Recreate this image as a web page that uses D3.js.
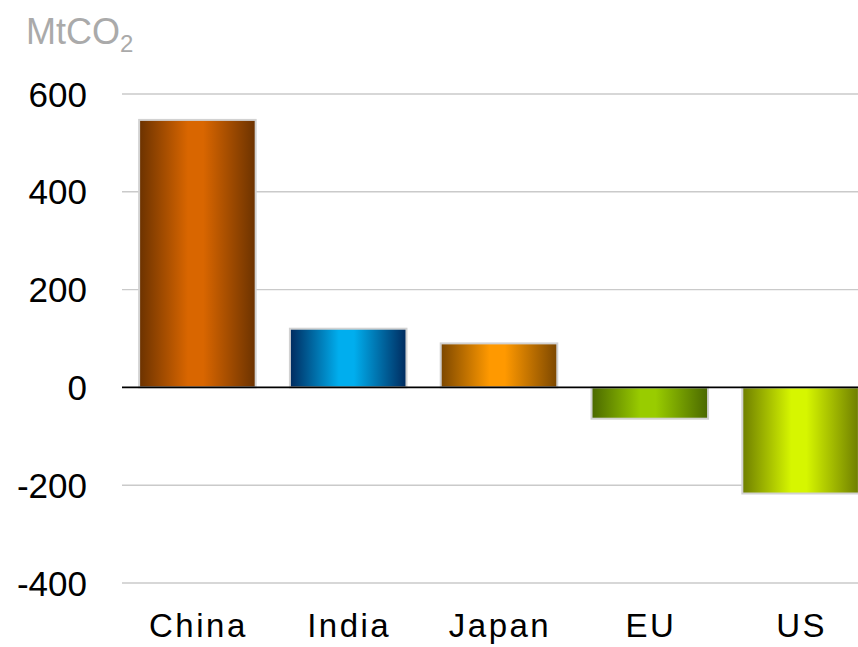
<!DOCTYPE html>
<html>
<head>
<meta charset="utf-8">
<script src="https://cdn.jsdelivr.net/npm/d3@7"></script>
<style>
body{margin:0;background:#fff;overflow:hidden;}
text{font-family:"Liberation Sans",Arial,sans-serif;}
</style>
</head>
<body>
<div id="chart"></div>
<script>
var w = 858;
var h = 647;

// data
var countries = ["China","India","Japan","EU","US"];
var changes = [547, 120, 90, -64, -217];
var yTicks = [600, 400, 200, 0, -200, -400];
// gradient colours: [edge, centre]
var barColors = [
  ["#6b3200","#d96600"],
  ["#002a5e","#00aeee"],
  ["#7c4700","#ff9900"],
  ["#4a6800","#99cc00"],
  ["#6e7e00","#d6f600"]
];

var svg = d3.select("#chart").append("svg")
  .attr("width", w)
  .attr("height", h)
  .style("display", "block");

var xScale = d3.scaleBand()
  .domain(countries)
  .range([122, 876])
  .paddingInner(0.227)
  .paddingOuter(0.1135);

var yScale = d3.scaleLinear()
  .domain([-400, 600])
  .range([583, 94]);

// gradients
var defs = svg.append("defs");
barColors.forEach(function(c, i){
  var g = defs.append("linearGradient")
    .attr("id", "grad" + i)
    .attr("x1", "0%").attr("x2", "100%")
    .attr("y1", "0%").attr("y2", "0%");
  g.append("stop").attr("offset", "0%").attr("stop-color", c[0]);
  g.append("stop").attr("offset", "42%").attr("stop-color", c[1]);
  g.append("stop").attr("offset", "55%").attr("stop-color", c[1]);
  g.append("stop").attr("offset", "100%").attr("stop-color", c[0]);
});

// gridlines
svg.selectAll(".grid")
  .data(yTicks.filter(function(d){ return d !== 0; }))
  .enter().append("line")
  .attr("class", "grid")
  .attr("x1", 122).attr("x2", w)
  .attr("y1", function(d){ return yScale(d); })
  .attr("y2", function(d){ return yScale(d); })
  .attr("stroke", "#cacaca")
  .attr("stroke-width", 1.4);

// tick labels
svg.selectAll(".ytick")
  .data(yTicks)
  .enter().append("text")
  .attr("class", "ytick")
  .attr("x", 87)
  .attr("y", function(d){ return yScale(d); })
  .attr("dy", "0.36em")
  .attr("text-anchor", "end")
  .attr("font-size", 35)
  .attr("fill", "#000")
  .text(function(d){ return d; });

// bars
svg.selectAll(".bar")
  .data(changes)
  .enter().append("rect")
  .attr("class", "bar")
  .attr("x", function(d, i){ return xScale(countries[i]); })
  .attr("width", xScale.bandwidth())
  .attr("y", function(d){ return yScale(Math.max(0, d)); })
  .attr("height", function(d){ return Math.abs(yScale(d) - yScale(0)); })
  .attr("fill", function(d, i){ return "url(#grad" + i + ")"; })
  .attr("stroke", "#d2d2d2")
  .attr("stroke-width", 2);

// zero line
svg.append("line")
  .attr("x1", 122).attr("x2", w)
  .attr("y1", yScale(0)).attr("y2", yScale(0))
  .attr("stroke", "#000")
  .attr("stroke-width", 1.6);

// category labels
svg.selectAll(".xlab")
  .data(countries)
  .enter().append("text")
  .attr("class", "xlab")
  .attr("x", function(d){ return xScale(d) + xScale.bandwidth()/2 + 1; })
  .attr("y", 637)
  .attr("text-anchor", "middle")
  .attr("font-size", 33)
  .attr("letter-spacing", 2.5)
  .attr("fill", "#000")
  .text(function(d){ return d; });

// unit label
var unit = svg.append("text")
  .attr("x", 26)
  .attr("y", 44)
  .attr("font-size", 36)
  .attr("fill", "#aaaaaa");
unit.append("tspan").text("MtCO");
unit.append("tspan").attr("font-size", 24).attr("dy", 8).text("2");
</script>
</body>
</html>
